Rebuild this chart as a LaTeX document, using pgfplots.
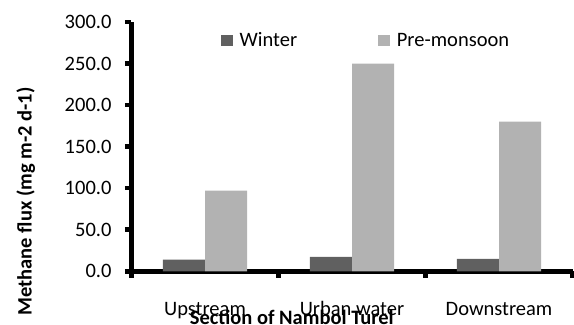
\documentclass[border=0pt]{standalone}
\usepackage{pgfplots}
\pgfplotsset{compat=1.18}
\usepackage{fontspec}
\setmainfont{Carlito}
\definecolor{winter}{RGB}{96,96,96}
\definecolor{premon}{RGB}{178,178,178}
\begin{document}
\begin{tikzpicture}[font=\fontsize{20.5bp}{24bp}\selectfont]
\begin{axis}[
  scale only axis,
  width=441bp, height=249.3bp,
  xmin=0, xmax=3, ymin=0, ymax=300,
  axis x line=bottom, axis y line=left,
  axis line style={-, line width=5bp, black},
  tick align=outside,
  major tick length=6.5bp,
  tick style={line width=4.5bp, black},
  xtick={0,1,2,3}, xticklabels={},
  extra x ticks={0.5,1.5,2.5},
  extra x tick labels={Upstream,Urban water,Downstream},
  extra x tick style={major tick length=0pt, tick style={draw=none},
     xticklabel style={anchor=base, yshift=-44bp}},
  ytick={0,50,...,300},
  /pgf/number format/fixed, /pgf/number format/fixed zerofill, /pgf/number format/precision=1,
  /pgf/number format/assume math mode=true,
  yticklabel style={xshift=-10bp},
  ybar, bar width=0.2857, 
  ylabel={Methane flux (mg m-2 d-1)},
  ylabel style={font=\fontsize{20.5bp}{24bp}\selectfont\bfseries, at={(axis description cs:-0.24,0.28)}, anchor=center, rotate=0},
  xlabel={Section of Nambol Turel},
  xlabel style={font=\fontsize{20.5bp}{24bp}\selectfont\bfseries, at={(axis description cs:0.3635,-0.2154)}, anchor=base},
  legend columns=2,
  legend style={draw=none, fill=none, at={(axis description cs:0.2025,0.926)}, anchor=west, inner sep=0pt,
    /tikz/every odd column/.append style={column sep=5bp},
    /tikz/every even column/.append style={column sep=79bp}},
  legend image code/.code={\path[#1,draw=none] (0bp,-5.8bp) rectangle (11.7bp,5.8bp);},
  clip=false,
]
\addplot[fill=winter, draw=none, bar shift=-0.1429] coordinates {(0.5,14) (1.5,17.5) (2.5,15)};
\addplot[fill=premon, draw=none, bar shift=0.1429] coordinates {(0.5,97) (1.5,250) (2.5,180)};
\legend{Winter,Pre-monsoon}
\end{axis}
\pgfresetboundingbox
\useasboundingbox (-131.5bp,-53.7bp) rectangle (442.5bp,271.3bp);
\end{tikzpicture}
\end{document}
